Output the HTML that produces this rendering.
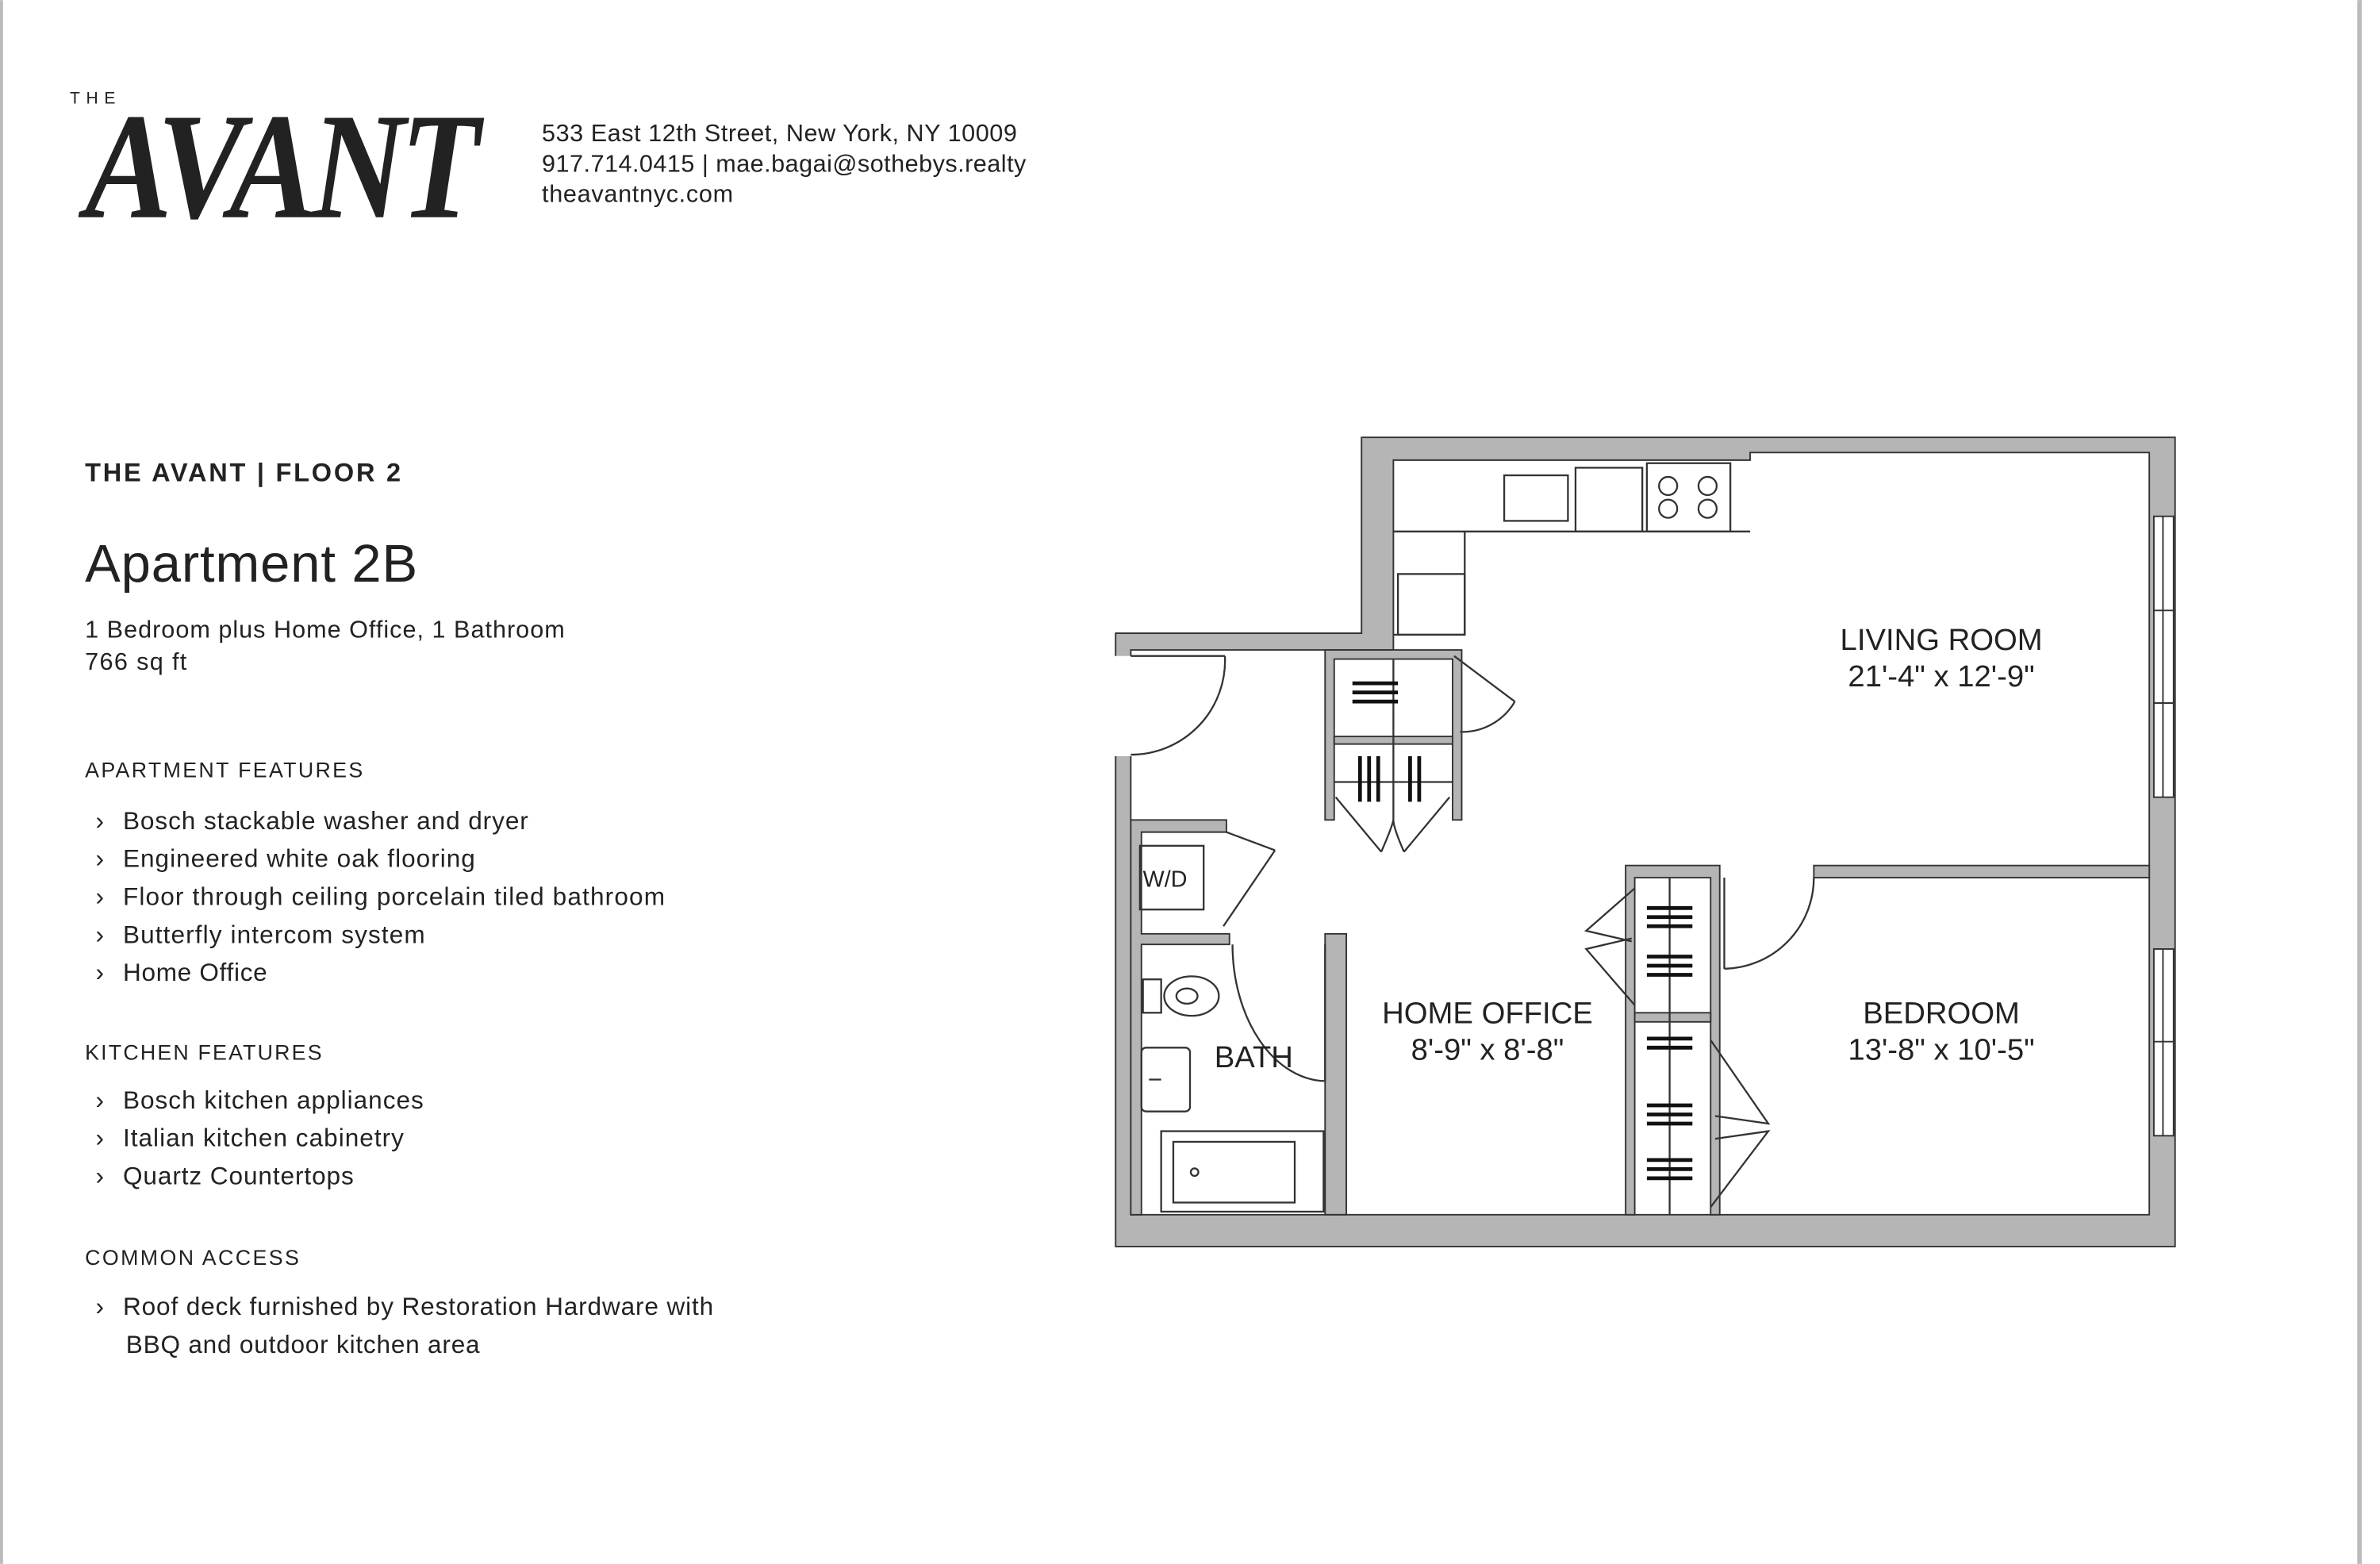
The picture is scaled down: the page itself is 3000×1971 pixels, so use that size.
<!DOCTYPE html>
<html><head><meta charset="utf-8"><style>
html,body{margin:0;padding:0;background:#fff;}
svg{display:block;}
text{font-family:"Liberation Sans",sans-serif;fill:#222;}
</style></head><body>
<svg width="3000" height="1971" viewBox="0 0 1568 1030" xmlns="http://www.w3.org/2000/svg">
<rect x="0" y="0" width="1568" height="1030" fill="#fff"/>
<rect x="0" y="0" width="2" height="1030" fill="#bbb"/>
<rect x="1553" y="0" width="3" height="1030" fill="#bbb"/>

<!-- Header -->
<text x="46" y="68" font-size="11" letter-spacing="4">THE</text>
<text x="56" y="143" font-size="100" font-style="italic" font-weight="bold" transform="translate(56,143) scale(0.86,1) translate(-56,-143)" style="font-family:'Liberation Serif',serif" letter-spacing="-4">AVANT</text>
<text x="357" y="93" font-size="16" textLength="313">533 East 12th Street, New York, NY 10009</text>
<text x="357" y="113" font-size="16" textLength="319">917.714.0415 | mae.bagai@sothebys.realty</text>
<text x="357" y="133" font-size="16" textLength="126">theavantnyc.com</text>

<!-- Left column -->
<text x="56" y="317" font-size="17" font-weight="bold" letter-spacing="1" textLength="209">THE AVANT | FLOOR 2</text>
<text x="56" y="383" font-size="35" textLength="219">Apartment 2B</text>
<text x="56" y="420" font-size="16" textLength="316">1 Bedroom plus Home Office, 1 Bathroom</text>
<text x="56" y="441" font-size="16" textLength="67">766 sq ft</text>
<text x="56" y="512" font-size="14" letter-spacing="1" textLength="184">APARTMENT FEATURES</text>
<g font-size="16.5">
<text x="63" y="546">›</text><text x="81" y="546" textLength="267">Bosch stackable washer and dryer</text>
<text x="63" y="571">›</text><text x="81" y="571" textLength="232">Engineered white oak flooring</text>
<text x="63" y="596">›</text><text x="81" y="596" textLength="357">Floor through ceiling porcelain tiled bathroom</text>
<text x="63" y="621">›</text><text x="81" y="621" textLength="199">Butterfly intercom system</text>
<text x="63" y="646">›</text><text x="81" y="646" textLength="95">Home Office</text>
</g>
<text x="56" y="698" font-size="14" letter-spacing="1" textLength="157">KITCHEN FEATURES</text>
<g font-size="16.5">
<text x="63" y="730">›</text><text x="81" y="730" textLength="198">Bosch kitchen appliances</text>
<text x="63" y="755">›</text><text x="81" y="755" textLength="185">Italian kitchen cabinetry</text>
<text x="63" y="780">›</text><text x="81" y="780" textLength="152">Quartz Countertops</text>
</g>
<text x="56" y="833" font-size="14" letter-spacing="1" textLength="142">COMMON ACCESS</text>
<g font-size="16.5">
<text x="63" y="866">›</text><text x="81" y="866" textLength="389">Roof deck furnished by Restoration Hardware with</text>
<text x="83" y="891" textLength="233">BBQ and outdoor kitchen area</text>
</g>

<!-- Floor plan -->
<g stroke="#333" stroke-width="1">
<polygon points="897,288 1433,288 1433,821 735,821 735,417 897,417" fill="#b5b5b5"/>
<polygon points="918,303 1153,303 1153,298 1416,298 1416,800 745,800 745,428 918,428" fill="#fff"/>
<rect x="733" y="432" width="13" height="66" fill="#fff" stroke="none"/>
<rect x="1419" y="340" width="13" height="185" fill="#fff"/>
<line x1="1425" y1="340" x2="1425" y2="525"/>
<line x1="1419" y1="402" x2="1432" y2="402"/><line x1="1419" y1="463" x2="1432" y2="463"/>
<rect x="1419" y="625" width="13" height="123" fill="#fff"/>
<line x1="1425" y1="625" x2="1425" y2="748"/><line x1="1419" y1="686" x2="1432" y2="686"/>
</g>
<g stroke="#333" stroke-width="1" fill="#b5b5b5">
<rect x="1195" y="570" width="221" height="8"/>
<path d="M1071,570 H1133 V800 H1127 V578 H1077 V800 H1071 Z"/>
<rect x="1077" y="667" width="50" height="6"/>
<path d="M873,428 H963 V540 H957 V434 H879 V540 H873 Z"/>
<rect x="879" y="485" width="78" height="5"/>
<path d="M745,540 H808 V548 H752 V615 H810 V622 H752 V800 H745 Z"/>
<rect x="873" y="615" width="14" height="185"/>
</g>
<g stroke="#333" stroke-width="1.2" fill="none">
<line x1="745" y1="432" x2="807" y2="432"/>
<path d="M807,432 A62,62 0 0 1 745,497"/>
<line x1="958" y1="432" x2="998" y2="462"/>
<path d="M998,462 A40,40 0 0 1 962,482"/>
<line x1="880" y1="525" x2="910" y2="561"/><line x1="955" y1="525" x2="925" y2="561"/>
<path d="M910,561 Q917,545 918,540"/><path d="M925,561 Q918,545 918,540"/>
<line x1="879" y1="515" x2="957" y2="515"/><line x1="918" y1="434" x2="918" y2="540"/>
<line x1="808" y1="548" x2="840" y2="560"/><line x1="840" y1="560" x2="806" y2="610"/>
<rect x="751" y="557" width="42" height="42"/>
<line x1="873" y1="622" x2="873" y2="712"/>
<path d="M812,622 A62,90 0 0 0 873,712"/>
<line x1="1136" y1="578" x2="1136" y2="638"/>
<path d="M1195,578 A60,60 0 0 1 1136,638"/>
<path d="M1077,585 L1045,613 L1075,620 M1077,662 L1045,625 L1075,618"/>
<path d="M1127,685 L1165,740 L1130,735 M1127,795 L1165,745 L1130,750"/>
<line x1="1100" y1="578" x2="1100" y2="800"/>
<path d="M918,350 H965 V418 H918 M965,350 H1153"/>
<rect x="991" y="313" width="42" height="30"/>
<rect x="1038" y="308" width="44" height="42"/>
<rect x="1085" y="305" width="55" height="45"/>
<circle cx="1099" cy="320" r="6"/><circle cx="1125" cy="320" r="6"/>
<circle cx="1099" cy="335" r="6"/><circle cx="1125" cy="335" r="6"/>
<rect x="921" y="378" width="44" height="40"/>
<ellipse cx="785" cy="656" rx="18" ry="13"/>
<ellipse cx="782" cy="656" rx="7" ry="5"/>
<rect x="753" y="645" width="12" height="22"/>
<rect x="752" y="690" width="32" height="42" rx="3"/>
<line x1="757" y1="711" x2="765" y2="711"/>
<rect x="765" y="745" width="107" height="53"/>
<rect x="773" y="752" width="80" height="40"/>
<circle cx="787" cy="772" r="2.5"/>
</g>
<g stroke="#111" stroke-width="2.5">
<path d="M891,450h30M891,456h30M891,462h30"/>
<path d="M896,498v30M902,498v30M908,498v30M929,498v30M935,498v30"/>
<path d="M1085,598h30M1085,604h30M1085,610h30M1085,630h30M1085,636h30M1085,642h30"/>
<path d="M1085,684h30M1085,690h30M1085,728h30M1085,734h30M1085,740h30M1085,764h30M1085,770h30M1085,776h30"/>
</g>
<text x="753" y="584" font-size="15">W/D</text>
<g font-size="20" text-anchor="middle">
<text x="1279" y="428">LIVING ROOM</text>
<text x="1279" y="452">21'-4" x 12'-9"</text>
<text x="980" y="674">HOME OFFICE</text>
<text x="980" y="698">8'-9" x 8'-8"</text>
<text x="1279" y="674">BEDROOM</text>
<text x="1279" y="698">13'-8" x 10'-5"</text>
<text x="826" y="703">BATH</text>
</g>
</svg>
</body></html>
